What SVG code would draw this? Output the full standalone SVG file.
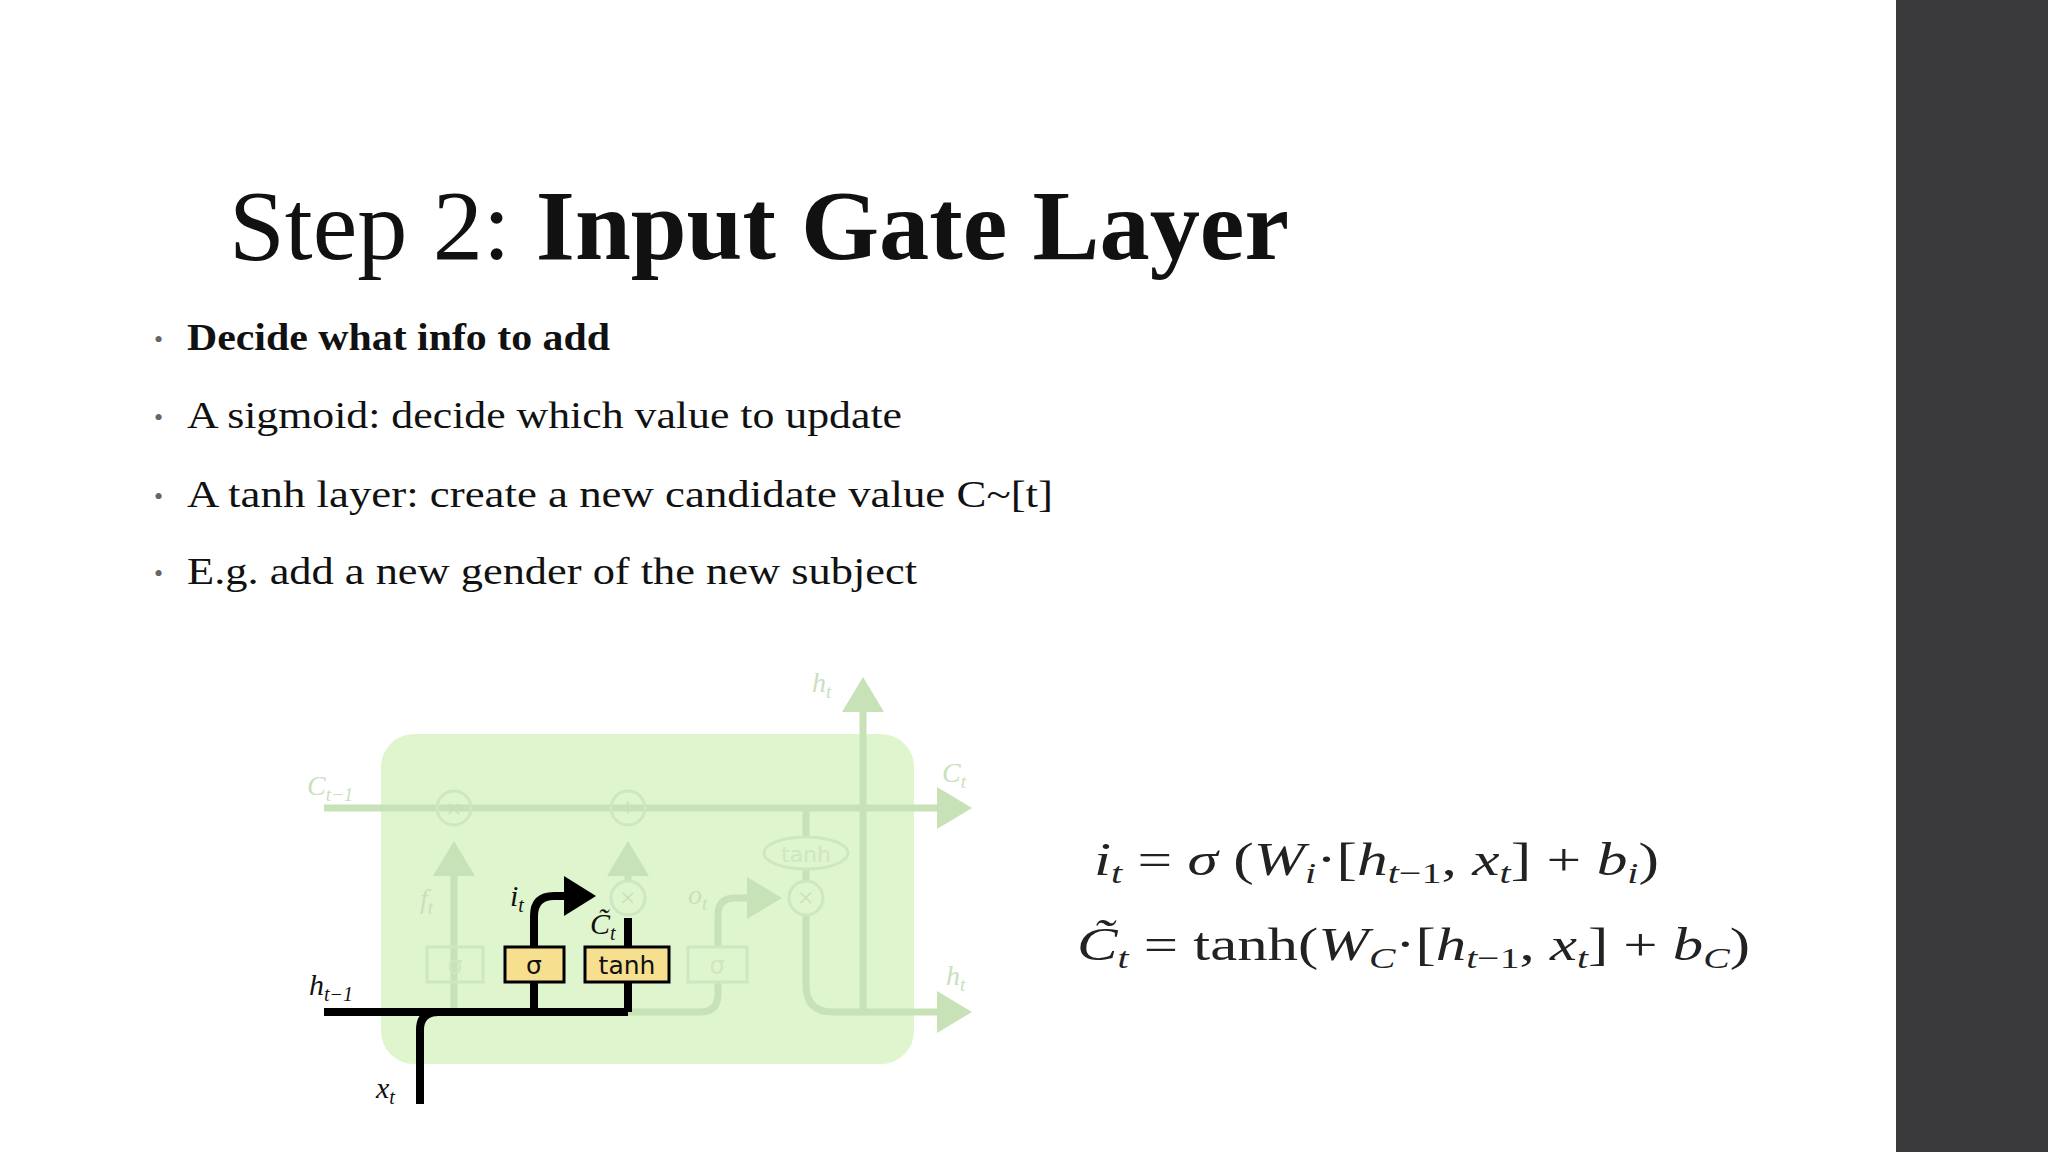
<svg xmlns="http://www.w3.org/2000/svg" width="2048" height="1152" viewBox="0 0 2048 1152">
<style>
.t{font-family:"Liberation Serif",serif;fill:#111}
.b{font-size:37px}
.dot{font-size:26px;fill:#666}
.m{font-family:"Liberation Serif",serif;font-size:46px;fill:#222}
.fl{font-family:"Liberation Serif",serif;font-style:italic;font-size:28px;fill:#c9dfbd}
.g{stroke:#c8e2b8;stroke-width:7;fill:none}
.k{stroke:#000;stroke-width:8;fill:none}
.lb{font-family:"Liberation Serif",serif;font-style:italic;font-size:30px;fill:#111}
.box{fill:#f6e08f;stroke:#000;stroke-width:3}
.fbox{fill:none;stroke:#cfe6c2;stroke-width:3}
.bt{font-family:"DejaVu Sans",sans-serif;font-size:25px;fill:#111;text-anchor:middle}
</style>
<defs>
<marker id="ga" markerWidth="6" markerHeight="6" refX="4" refY="3" orient="auto" markerUnits="strokeWidth"><path d="M0,0L5,3L0,6z" fill="#c8e2b8"/></marker>
<marker id="ka" markerWidth="5" markerHeight="5" refX="3" refY="2.5" orient="auto" markerUnits="strokeWidth"><path d="M0,0L4,2.5L0,5z" fill="#000"/></marker>
</defs>
<rect width="2048" height="1152" fill="#fff"/>
<rect x="1896" y="0" width="152" height="1152" fill="#3a3a3c"/>
<g id="title">
<text class="t" x="229" y="259" font-size="100" textLength="1060" lengthAdjust="spacingAndGlyphs">Step 2: <tspan font-weight="bold">Input Gate Layer</tspan></text>
</g>
<g id="bullets">
<text class="t dot" x="154" y="348">•</text><text class="t b" x="187" y="350" font-weight="bold" textLength="423" lengthAdjust="spacingAndGlyphs">Decide what info to add</text>
<text class="t dot" x="154" y="426">•</text><text class="t b" x="187" y="428" textLength="715" lengthAdjust="spacingAndGlyphs">A sigmoid: decide which value to update</text>
<text class="t dot" x="154" y="505">•</text><text class="t b" x="187" y="507" textLength="866" lengthAdjust="spacingAndGlyphs">A tanh layer: create a new candidate value C~[t]</text>
<text class="t dot" x="154" y="582">•</text><text class="t b" x="187" y="584" textLength="730" lengthAdjust="spacingAndGlyphs">E.g. add a new gender of the new subject</text>
</g>
<g id="cell">
<rect x="381" y="734" width="533" height="330" rx="33" fill="#dff5cd"/>
</g>
<g id="connectors">
<path class="g" d="M324 808H965" marker-end="url(#ga)"/>
<path class="g" d="M863 1012V684" marker-end="url(#ga)"/>
<path class="g" d="M454 1012V848" marker-end="url(#ga)"/>
<path class="g" d="M628 880V848" marker-end="url(#ga)"/>
<path class="g" d="M628 1012H700q18 0 18-18V982M718 947V915q0-17 17-17H775" marker-end="url(#ga)"/>
<path class="g" d="M806 808V837M806 869V880M806 916V985q0 27 27 27H965" marker-end="url(#ga)"/>
<path class="k" d="M324 1012H628M420 1104V1030q0-18 18-18"/>
<path class="k" d="M534 1012V982M628 1012V982M628 947V918"/>
<path class="k" d="M534 947V916q0-20 20-20H588" marker-end="url(#ka)"/>
</g>
<g id="ops" fill="none" stroke="#cfe6c2" stroke-width="3">
<circle cx="454" cy="808" r="17"/><circle cx="628" cy="808" r="17"/>
<circle cx="628" cy="898" r="17"/><circle cx="806" cy="898" r="17"/>
<ellipse cx="806" cy="853" rx="42" ry="16"/>
<text class="fl" x="444" y="818" stroke="none" font-style="normal" font-size="24">×</text>
<text class="fl" x="618" y="817" stroke="none" font-style="normal" font-size="26">+</text>
<text class="fl" x="618" y="907" stroke="none" font-style="normal" font-size="24">×</text>
<text class="fl" x="796" y="907" stroke="none" font-style="normal" font-size="24">×</text>
<text x="806" y="862" stroke="none" fill="#cfe6c2" font-family="DejaVu Sans,sans-serif" font-size="22" text-anchor="middle">tanh</text>
</g>
<g id="gate-f"><rect class="fbox" x="427" y="947" width="56" height="35"/><text x="455" y="974" fill="#cfe6c2" font-family="DejaVu Sans,sans-serif" font-size="24" text-anchor="middle">σ</text></g>
<g id="gate-i"><rect class="box" x="505" y="947" width="59" height="35"/><text class="bt" x="534" y="974">σ</text></g>
<g id="gate-c"><rect class="box" x="585" y="947" width="84" height="35"/><text class="bt" x="627" y="974">tanh</text></g>
<g id="gate-o"><rect class="fbox" x="688" y="947" width="59" height="35"/><text x="717" y="974" fill="#cfe6c2" font-family="DejaVu Sans,sans-serif" font-size="24" text-anchor="middle">σ</text></g>
<g id="labels">
<text class="fl" x="307" y="795">C<tspan font-size="19" dy="6">t−1</tspan></text>
<text class="fl" x="942" y="782">C<tspan font-size="19" dy="6">t</tspan></text>
<text class="fl" x="812" y="692">h<tspan font-size="19" dy="6">t</tspan></text>
<text class="fl" x="946" y="985">h<tspan font-size="19" dy="6">t</tspan></text>
<text class="fl" x="420" y="908">f<tspan font-size="19" dy="6">t</tspan></text>
<text class="fl" x="688" y="904">o<tspan font-size="19" dy="6">t</tspan></text>
<text class="lb" x="510" y="906">i<tspan font-size="20" dy="6">t</tspan></text>
<text class="lb" x="590" y="934">C̃<tspan font-size="20" dy="6">t</tspan></text>
<text class="lb" x="309" y="995">h<tspan font-size="20" dy="6">t−1</tspan></text>
<text class="lb" x="376" y="1098">x<tspan font-size="20" dy="6">t</tspan></text>
</g>
<g id="equations">
<text class="m" x="1094" y="875" textLength="565" lengthAdjust="spacingAndGlyphs"><tspan font-style="italic">i</tspan><tspan font-size="30" dy="8" font-style="italic">t</tspan><tspan dy="-8"> = </tspan><tspan font-style="italic">σ</tspan> (<tspan font-style="italic">W</tspan><tspan font-size="30" dy="8" font-style="italic">i</tspan><tspan dy="-8">·[</tspan><tspan font-style="italic">h</tspan><tspan font-size="30" dy="8" font-style="italic">t</tspan><tspan font-size="30">−1</tspan><tspan dy="-8">, </tspan><tspan font-style="italic">x</tspan><tspan font-size="30" dy="8" font-style="italic">t</tspan><tspan dy="-8">]  +  </tspan><tspan font-style="italic">b</tspan><tspan font-size="30" dy="8" font-style="italic">i</tspan><tspan dy="-8">)</tspan></text>
<text class="m" x="1077" y="960" textLength="673" lengthAdjust="spacingAndGlyphs"><tspan font-style="italic">C̃</tspan><tspan font-size="30" dy="8" font-style="italic">t</tspan><tspan dy="-8"> = tanh(</tspan><tspan font-style="italic">W</tspan><tspan font-size="30" dy="8" font-style="italic">C</tspan><tspan dy="-8">·[</tspan><tspan font-style="italic">h</tspan><tspan font-size="30" dy="8" font-style="italic">t</tspan><tspan font-size="30">−1</tspan><tspan dy="-8">, </tspan><tspan font-style="italic">x</tspan><tspan font-size="30" dy="8" font-style="italic">t</tspan><tspan dy="-8">]  +  </tspan><tspan font-style="italic">b</tspan><tspan font-size="30" dy="8" font-style="italic">C</tspan><tspan dy="-8">)</tspan></text>
</g>
</svg>
